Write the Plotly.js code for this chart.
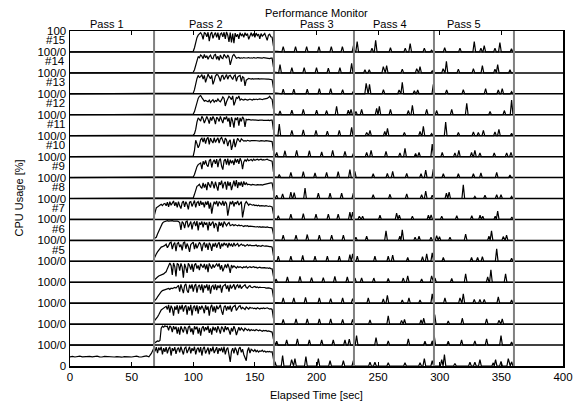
<!DOCTYPE html>
<html><head><meta charset="utf-8">
<script src="https://cdn.plot.ly/plotly-3.0.1.min.js"></script>
<style>html,body{margin:0;padding:0;background:#fff}#chart{width:579px;height:401px}</style>
</head><body><div id="chart"></div>
<script>
// ---------- axis / label data ----------
const xTicks = [0, 50, 100, 150, 200, 250, 300, 350, 400];
const passNames = ['Pass 1', 'Pass 2', 'Pass 3', 'Pass 4', 'Pass 5'];
const passLabelTimes = [30, 110, 200, 260, 320];
const passEnds = [68.2, 165.5, 230.4, 295.3, 360.2];
const labeledCpus = [5, 6, 7, 8, 9, 10, 11, 12, 13, 14, 15];
const cpuCount = 16;
const idleStep = 2;          // seconds between samples of idle0
const busyStep = 1;          // seconds between samples of busyN
const busyStartA = 68;       // CPUs #0-#7: first pass-2 sample
const busyStartB = 100;      // CPUs #8-#15: first pass-2 sample
const traceEnd = 360.5;

// ---------- CPU #0 pass 1 (every 2 s from 0) ----------
const idle0 = [44,46,43,45,47,44,45,43,46,44, 45,47,44,43,46,45,44,46,43,45,
               44,42,45,46,44,43,45,47,44,43, 46,48,44,60];

// ---------- pass 2 usage (%), every 1 s; group A from 68 s ----------
const busy0 = [85,70,90,62,88,75,92,55,85,68, 90,60,82,92,50,85,72,90,58,80,
               88,65,92,70,55,85,90,62,78,92, 60,85,72,92,55,80,88,65,90,50,
               82,92,60,78,88,55,85,70,92,62, 80,90,58,85,72,88,65,92,55,80,
               88,40,20,70,85,60,88,75,52,82, 90,65,80,55,35,25,72,88,62,80,
               75,70,78,68,74,66,72,70,76,68, 72,66,70,68,70,66,68,30,3];
const busy1 = [8,12,15,20,18,22,80,90,85,92, 88,90,70,92,85,62,90,75,88,55,
               85,50,90,72,60,88,80,52,85,92, 62,80,50,90,75,88,55,82,45,80,
               90,65,85,72,92,58,80,50,88,70, 85,60,90,75,55,88,80,62,90,72,
               85,70,50,82,65,90,75,48,72,85, 70,82,75,68,80,72,70,76,68,74,
               70,72,68,74,70,68,72,70,66,70, 68,70,66,68,66,64,62,30,3];
const busy2 = [12,18,25,35,45,58,68,72,78,80, 85,70,92,55,88,75,40,85,68,90,
               50,88,70,92,60,82,90,45,85,65, 92,42,80,88,62,90,50,85,70,88,
               75,52,90,68,85,40,80,92,60,85, 55,88,72,80,92,62,45,82,88,65,
               85,70,88,60,80,85,90,65,78,85, 88,72,80,76,70,82,75,72,80,76,
               78,74,76,72,78,75,72,76,74,77, 74,76,78,75,72,74,70,30,4];
const busy3 = [8,12,20,30,40,50,55,60,62,66, 65,68,70,66,72,70,74,75,72,78,
               85,55,90,68,48,85,92,60,50,88, 70,90,55,82,92,50,80,88,62,90,
               50,85,72,90,60,88,45,80,85,65, 90,62,85,72,88,50,80,85,90,68,
               85,55,88,70,80,90,65,82,88,72, 88,70,78,82,88,75,72,80,84,76,
               74,78,80,75,78,74,77,75,76,74, 75,72,74,73,72,70,68,30,4];
const busy4 = [8,15,20,25,30,32,35,38,40,45, 50,65,82,92,80,35,92,75,28,90,
               85,55,90,72,22,88,70,45,90,80, 60,88,50,82,90,65,80,58,88,75,
               70,88,62,85,48,90,72,65,85,70, 80,88,75,90,60,82,52,75,85,68,
               88,72,45,82,70,78,75,68,76,70, 74,70,68,74,70,76,68,72,74,70,
               72,74,70,72,68,70,72,69,70,68, 70,68,69,66,68,65,64,30,5];
const busy5 = [10,25,35,45,55,62,68,70,72,76, 82,65,75,88,92,58,80,90,48,85,
               90,68,80,52,88,92,60,85,70,45, 80,88,92,58,85,62,75,90,82,48,
               80,90,65,85,55,88,78,50,85,70, 88,65,82,90,60,85,72,88,78,85,
               65,88,75,82,70,88,74,78,85,72, 75,82,76,78,72,76,80,74,78,75,
               74,76,75,78,72,75,74,72,76,74, 72,74,72,73,70,70,68,30,4];
const busy6 = [8,10,15,30,45,60,72,82,88,90, 92,94,92,93,92,94,92,93,94,92,
               90,85,50,90,82,58,88,92,62,78, 90,52,82,88,68,92,48,85,75,90,
               62,88,75,85,48,88,70,82,90,58, 82,75,42,88,70,85,62,90,78,70,
               80,85,70,74,76,70,75,72,70,74, 70,72,68,66,70,68,70,66,68,67,
               66,68,65,64,66,63,65,62,64,62, 63,62,64,62,63,61,60,28,3];
const busy7 = [10,30,55,60,65,68,72,66,74,76, 65,82,60,85,68,78,88,65,82,58,
               85,65,52,80,88,60,85,72,48,82, 85,62,78,90,58,80,85,65,88,70,
               82,58,85,70,88,52,80,28,62,85, 72,88,62,85,78,68,88,65,85,75,
               18,55,85,72,88,62,82,75,88,68, 80,85,10,38,75,85,78,68,74,70,
               68,70,66,68,65,68,64,66,64,65, 64,66,64,62,64,62,60,28,4];
// ---------- group B from 100 s ----------
const busy8  = [3,20,45,58,62,68,55,48,75,52, 70,40,78,62,52,82,70,48,80,58,
                38,78,65,85,48,72,80,42,82,60, 78,40,72,85,58,88,50,78,62,80,
                55,82,65,75,66,68,66,64,67,65, 66,64,66,64,65,66,64,66,68,67,
                70,72,74,75,74,30,4];
const busy9  = [3,15,40,52,62,66,70,40,78,62, 82,60,52,80,88,48,75,85,65,88,
                50,82,90,55,38,80,88,62,90,58, 85,68,82,60,90,72,88,65,92,78,
                40,75,85,78,88,80,84,86,80,88, 82,86,88,84,86,88,84,86,84,86,
                88,84,82,80,78,30,4];
const busy10 = [3,30,78,62,42,55,82,88,70,90, 62,85,92,58,88,75,65,90,68,80,
                90,65,85,92,72,60,88,80,50,72, 80,32,55,85,45,62,88,78,70,85,
                78,74,76,74,78,76,74,76,75,76, 77,76,75,76,74,76,75,76,74,76,
                75,74,76,74,72,30,4];
const busy11 = [3,10,30,65,85,78,70,92,82,60, 80,92,78,58,88,72,92,80,55,88,
                82,68,92,75,60,88,78,92,68,85, 42,88,70,38,85,75,88,48,85,68,
                90,80,42,78,76,78,76,74,76,75, 74,76,74,73,74,75,74,73,72,74,
                73,74,72,74,74,30,3];
const busy12 = [3,15,40,60,78,88,92,82,72,65, 68,64,62,70,58,66,72,60,68,64,
                75,66,62,72,85,78,42,62,80,88, 82,72,90,45,62,82,78,90,70,75,
                72,70,74,72,70,72,75,72,70,74, 72,75,72,74,76,74,72,75,76,74,
                78,82,88,78,74,30,4];
const busy13 = [3,20,50,72,88,78,82,92,70,88, 55,80,94,82,72,88,45,62,85,92,
                90,78,60,85,88,68,80,92,70,85, 88,75,68,85,90,60,80,85,88,58,
                82,78,38,65,72,74,72,70,72,70, 72,70,71,72,70,72,71,70,72,71,
                70,70,69,68,67,30,4];
const busy14 = [3,15,40,62,78,72,85,80,68,88, 72,82,65,78,85,70,68,85,88,65,
                80,60,85,72,68,88,80,70,85,75, 38,65,82,88,76,70,72,74,70,72,
                70,73,71,70,72,73,70,72,70,73, 72,70,73,72,70,72,70,73,72,70,
                72,70,68,70,70,30,4];
const busy15 = [3,20,50,68,80,88,92,82,60,92, 88,72,94,52,85,95,65,82,92,70,
                92,58,85,90,72,94,62,96,80,48, 92,45,88,42,90,72,85,62,92,78,
                85,70,92,78,88,60,82,92,75,88, 70,90,78,85,62,88,75,82,88,72,
                55,80,85,72,70,30,4];

// ---------- passes 3-5: usage spikes [time s, usage %] ----------
const spikes0 = [[166.3,20],[172.5,50],[179.8,30],[182.5,35],[191.4,45],[201.5,35],[211,25],[221.8,25],[229.9,25],[243.4,18],[247.4,18],[258.2,15],[271.8,15],[284,15],[287.5,35],[293.9,25],[301.6,30],[303.8,55],[312.3,12],[324.5,18],[328.5,18],[332.6,30],[343.4,15],[345.3,30],[349.7,22],[355.6,35],[358.3,20]];
const spikes1 = [[167.7,18],[175.8,25],[184.5,30],[194.2,25],[204.2,25],[213.6,25],[223.1,25],[226.6,28],[232.5,45],[248.3,35],[258.2,20],[274.5,30],[288,18],[293.9,20],[295.5,45],[306.9,18],[317.7,25],[328.5,20],[338,30],[349.7,45],[358.3,15]];
const spikes2 = [[173,22],[183.4,25],[192.5,25],[202.3,25],[211.5,25],[221.2,22],[229.3,22],[243.4,20],[258.2,40],[269,18],[271.4,22],[284.8,20],[287,28],[295.9,45],[306.9,15],[318.3,28],[338,25],[348,18],[350.7,25]];
const spikes3 = [[173,25],[181.6,25],[191.1,28],[202.3,25],[211.5,22],[221.2,25],[229.3,22],[242,25],[254.2,20],[257.5,38],[269.6,15],[275,25],[284,15],[293.9,45],[304.2,25],[316.4,25],[319.1,45],[328,18],[332.6,18],[336.1,18],[347.5,30],[358.3,15]];
const spikes4 = [[167.2,15],[176.4,25],[186.6,28],[196,22],[205.5,22],[214.9,28],[225,25],[231.2,20],[236.6,20],[246.5,20],[258.2,18],[270.4,20],[274,30],[285.3,15],[293.4,30],[296.1,20],[309.7,18],[321,40],[338.9,25],[341.5,60],[353.4,40]];
const spikes5 = [[169,25],[179.2,25],[188.8,28],[198.8,25],[208.8,25],[218.5,25],[227.1,32],[229.3,35],[233.1,25],[247.4,25],[258.2,25],[261.8,30],[274,18],[286,22],[289.4,35],[293.9,40],[302.9,18],[325.8,18],[330.7,18],[334.6,22],[346.2,60],[358.3,15]];
const spikes6 = [[173,25],[183.4,25],[192.5,28],[202.3,25],[212.3,25],[221.8,25],[232,15],[240.7,20],[256.4,45],[267.6,20],[269.6,50],[280,15],[283.2,20],[292.9,15],[297.5,22],[299.8,18],[308.3,15],[321,30],[339.9,20],[342,45],[351.5,18],[354.2,25]];
const spikes7 = [[169,18],[179.2,25],[189.3,28],[199.6,25],[209.6,25],[217.6,25],[227.1,35],[229.3,35],[234.7,15],[237.4,15],[251.5,20],[265,30],[267.2,20],[277.8,15],[290.8,20],[293,22],[301.6,15],[313.8,18],[326,18],[332.7,20],[334.9,15],[345,15],[347,40],[358.5,12]];
const spikes8 = [[167.7,15],[172.5,22],[179.2,30],[181.9,28],[190.7,50],[201.5,25],[211,25],[220.4,25],[229.9,25],[246,18],[259.6,20],[273.2,22],[285.3,18],[288.6,35],[293.9,15],[305.4,25],[307.6,30],[319.1,65],[328.5,10],[336.7,15],[346.2,18],[349.7,18],[358.3,10]];
const spikes9 = [[169.8,15],[179.2,25],[189.3,28],[198.8,22],[208.2,25],[217.6,28],[227.1,38],[231.1,30],[246,18],[257.5,20],[261.8,30],[273.2,20],[284.8,18],[288.6,35],[294.8,40],[302.9,18],[315.1,18],[327.3,18],[333.4,22],[346.2,25],[357,12]];
const spikes10 = [[167.7,20],[174.4,28],[183.9,30],[194.2,28],[204.2,22],[213.1,30],[223.1,25],[229.9,15],[240.7,20],[244.3,30],[256.4,25],[267.7,18],[271.8,40],[280.4,15],[283.2,20],[293.9,60],[302,20],[312.3,18],[315.5,30],[325.8,20],[328.5,30],[332.6,18],[344.2,18],[354.3,18],[357.8,20]];
const spikes11 = [[169.8,55],[180,25],[189.3,28],[199.6,25],[208.8,22],[218.5,25],[228.5,40],[240.7,15],[243.4,25],[255.4,20],[257.6,35],[271.3,15],[284,20],[286.7,45],[293.4,10],[304.8,65],[315.1,15],[327.3,18],[331.3,15],[335.4,25],[344.8,18],[348,30],[358.3,12]];
const spikes12 = [[170.4,18],[180,22],[189.3,25],[200.1,22],[208.2,20],[216.3,40],[225.8,22],[228,25],[232,15],[236.6,25],[248.8,30],[251,40],[260,25],[274.5,20],[277.8,45],[289.4,25],[297.5,20],[309.7,25],[321.9,55],[340.8,15],[352.4,20],[358.3,70]];
const spikes13 = [[173,22],[181.6,22],[192.5,22],[202.3,25],[211.5,25],[221.2,20],[229.9,12],[240.3,50],[243,45],[254.3,20],[267,18],[269.6,55],[279.4,15],[282.1,18],[294.8,45],[305.6,18],[319.1,20],[337.2,25],[347.5,18],[350.7,25],[358.3,10]];
const spikes14 = [[170.4,40],[180,25],[190,25],[200,25],[209.6,22],[219,25],[228.5,45],[239.3,15],[242.8,15],[254.2,30],[256.9,35],[269.6,18],[281.3,20],[284,30],[293.9,10],[302.7,20],[305.4,55],[315.1,18],[327.3,20],[334.6,35],[344.8,18],[347,40],[357,15]];
const spikes15 = [[173,25],[183,25],[192,25],[202,25],[212,25],[221,25],[230,30],[233,50],[245,18],[248,55],[260,20],[272,18],[276,40],[287.5,18],[293.4,8],[304,20],[316.4,18],[328,50],[333.4,18],[336.1,30],[344.8,18],[348.8,45],[358.2,15]];

const busyAll = [busy0,busy1,busy2,busy3,busy4,busy5,busy6,busy7,
                 busy8,busy9,busy10,busy11,busy12,busy13,busy14,busy15];
const spikesAll = [spikes0,spikes1,spikes2,spikes3,spikes4,spikes5,spikes6,spikes7,
                   spikes8,spikes9,spikes10,spikes11,spikes12,spikes13,spikes14,spikes15];
const spikeHalfWidth = 1.1;

function buildTrace(k) {
  const xs = [], ys = [];
  const start = k < 8 ? busyStartA : busyStartB;
  if (k === 0) { idle0.forEach((v, i) => { xs.push(i * idleStep); ys.push(v); }); }
  else { xs.push(0, start - 0.5); ys.push(0, 0); }   // idle before its pass-2 work starts
  busyAll[k].forEach((v, i) => { xs.push(start + i * busyStep); ys.push(v); });
  const sp = spikesAll[k].slice().sort((a, b) => a[0] - b[0]);
  sp.forEach(([t, h], i) => {
    const last = xs[xs.length - 1];
    if (t - spikeHalfWidth > last) { xs.push(t - spikeHalfWidth); ys.push(0); }
    xs.push(t); ys.push(h);
    const next = sp[i + 1];
    if (!next || next[0] - spikeHalfWidth > t + spikeHalfWidth) { xs.push(t + spikeHalfWidth); ys.push(0); }
  });
  xs.push(traceEnd); ys.push(0);
  return { type: 'scatter', mode: 'lines', x: xs, y: ys.map(v => v + 100 * k),
           line: { color: '#000', width: 1.2 }, hoverinfo: 'skip', showlegend: false };
}

const traces = [];
for (let k = 0; k < cpuCount; k++) traces.push(buildTrace(k));

const font = 'Liberation Sans, Arial, Helvetica, sans-serif';
const yTickVals = [], yTickText = [];
for (let k = 0; k <= cpuCount; k++) {
  yTickVals.push(100 * k);
  yTickText.push(k === 0 ? '0' : (k === cpuCount ? '100' : '100/0'));
}

const shapes = [];
for (let k = 1; k < cpuCount; k++) {
  shapes.push({ type: 'line', xref: 'x', yref: 'y', x0: 0, x1: 400, y0: 100 * k, y1: 100 * k,
                line: { color: '#000', width: 1.5 } });
}
passEnds.forEach(t => shapes.push({ type: 'line', xref: 'x', yref: 'paper', x0: t, x1: t, y0: 0, y1: 1,
                line: { color: '#808080', width: 2 } }));

const annotations = [];
labeledCpus.forEach(c => annotations.push({ xref: 'paper', yref: 'y', x: 0, y: 100 * c + 50,
  xanchor: 'right', yanchor: 'middle', xshift: -3, yshift: 1, text: '#' + c, showarrow: false,
  font: { family: font, size: 11.5, color: '#000' } }));
passNames.forEach((n, i) => annotations.push({ xref: 'x', yref: 'paper', x: passLabelTimes[i], y: 1,
  xanchor: 'center', yanchor: 'middle', yshift: 7, text: n, showarrow: false,
  font: { family: font, size: 11, color: '#000' } }));
annotations.push({ xref: 'paper', yref: 'paper', x: 0.5, y: 1, xanchor: 'center', yanchor: 'middle',
  yshift: 18, text: 'Performance Monitor', showarrow: false, font: { family: font, size: 11, color: '#000' } });
annotations.push({ xref: 'paper', yref: 'paper', x: 0.5, y: 0, xanchor: 'center', yanchor: 'middle',
  yshift: -28.5, text: 'Elapsed Time [sec]', showarrow: false, font: { family: font, size: 11, color: '#000' } });
annotations.push({ xref: 'paper', yref: 'paper', x: 0, y: 0.5, xanchor: 'center', yanchor: 'middle',
  xshift: -52, textangle: -90, text: 'CPU Usage [%]', showarrow: false, font: { family: font, size: 11, color: '#000' } });

const layout = {
  width: 579, height: 401,
  margin: { l: 70, r: 16, t: 31, b: 35, pad: 0 },
  paper_bgcolor: '#fff', plot_bgcolor: '#fff',
  font: { family: font, size: 11.5, color: '#000' },
  xaxis: { range: [0, 400], tickvals: xTicks, ticktext: xTicks.map(String), ticks: 'inside', ticklen: 4,
           tickwidth: 1, tickcolor: '#000', showline: true, linecolor: '#000', linewidth: 1.5, mirror: 'ticks',
           showgrid: false, zeroline: false, tickfont: { family: font, size: 11.5, color: '#000' } },
  yaxis: { range: [0, 1600], tickvals: yTickVals, ticktext: yTickText, ticks: '', showline: true,
           linecolor: '#000', linewidth: 1.5, mirror: true, showgrid: false, zeroline: false,
           tickfont: { family: font, size: 11.5, color: '#000' } },
  shapes: shapes, annotations: annotations
};

Plotly.newPlot('chart', traces, layout, { staticPlot: true, displayModeBar: false });
</script>
</body></html>
